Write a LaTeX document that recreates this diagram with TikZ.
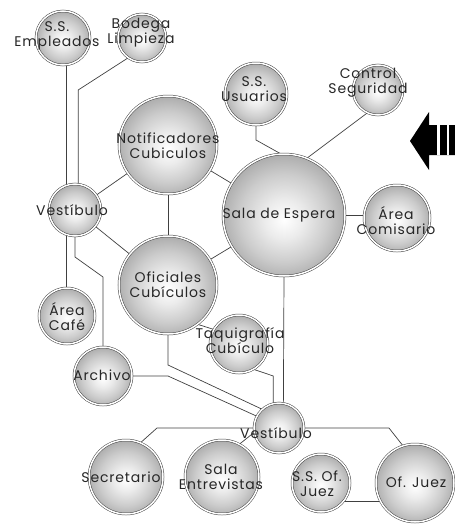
\documentclass[tikz,border=0pt]{standalone}
\usepackage{fontspec}
\setmainfont{Poppins}[LetterSpace=6]
\usetikzlibrary{backgrounds}

\pgfdeclareradialshading{roomball}{\pgfpoint{0bp}{-2bp}}{color(0bp)=(white); color(8bp)=(gray!15); color(18bp)=(gray!40); color(26bp)=(gray!65); color(33bp)=(gray!88); color(50bp)=(gray!95)}

\begin{document}
\begin{tikzpicture}[x=1pt, y=-1pt,
    room/.style={circle, draw=black!75, line width=0.5pt, double=white, double distance=1.5pt,
        shade, shading=roomball, inner sep=0pt, minimum size=#1},
    txt/.style={font=\fontsize{14}{15}\selectfont, text=black!85, align=center, inner sep=0pt},
    wire/.style={draw=black!75, line width=0.7pt}
]
\useasboundingbox (0,0) rectangle (455,525);

% top row
\node[room=54pt, label={[txt, xshift=-6pt, yshift=2pt]center:S.S.\\Empleados}] (ssEmp) at (63,38) {};
\node[room=48pt, label={[txt, xshift=-1pt, yshift=5pt]center:Bodega\\Limpieza}] (bodega) at (142,38) {};
\node[room=62pt, label={[txt, xshift=-2pt, yshift=5pt]center:S.S.\\Usuarios}] (ssUsu) at (256,94) {};
\node[room=50pt, label={[txt, xshift=-10pt, yshift=7pt]center:Control\\Seguridad}] (control) at (378,90) {};

% middle
\node[room=98pt, label={[txt, yshift=-1pt]center:Notificadores\\Cubiculos}] (notif) at (168,145) {};
\node[room=122pt, label={[txt, xshift=-5pt]center:Sala de Espera}] (sala) at (284,215) {};
\node[room=66pt, label={[txt, xshift=-1pt, yshift=-3pt]center:Área\\Comisario}] (comis) at (397,218) {};
\node[room=52pt, label={[txt, xshift=-3pt]center:Vestíbulo}] (vestL) at (75,210) {};
\node[room=98pt, label={[txt]center:Oficiales\\Cubículos}] (ofic) at (168,285) {};
\node[room=56pt, label={[txt, yshift=-1pt]center:Área\\Café}] (cafe) at (67,316) {};
\node[room=58pt, label={[txt, xshift=-1pt, yshift=1pt]center:Archivo}] (archivo) at (103,376) {};
\node[room=58pt, label={[txt, xshift=1pt, yshift=3pt]center:Taquigrafía\\Cubículo}] (taqui) at (239,344) {};

% bottom row
\node[room=50pt, label={[txt, xshift=-3pt, yshift=-5pt]center:Vestíbulo}] (vestB) at (279,428) {};
\node[room=74pt, label={[txt, xshift=-5pt]center:Secretario}] (secret) at (126,477) {};
\node[room=74pt, label={[txt, xshift=-1pt]center:Sala\\Entrevistas}] (entrev) at (222,477) {};
\node[room=58pt, label={[txt, xshift=-4pt, yshift=-1pt]center:S.S. Of.\\Juez}] (ssJuez) at (321,483) {};
\node[room=78pt, label={[txt, xshift=1pt, yshift=1pt]center:Of. Juez}] (ofJuez) at (415,483) {};

% entrance arrow
\fill[black] (410,141) -- (429,112) -- (429,125) -- (455,125) -- (455,155) -- (429,155) -- (429,170) -- cycle;
\fill[white] (437,125) rectangle (440,155);
\fill[white] (446.5,125) rectangle (449,155);

\begin{scope}[on background layer]
\draw[wire] (vestL.110) -- (vestL.110 |- ssEmp.south);
\draw[wire] (bodega.235) -- (vestL.83 |- 0,90) -- (vestL.83);
\draw[wire] (vestL) -- (notif);
\draw[wire] (notif) -- (ofic);
\draw[wire] (notif) -- (sala);
\draw[wire] (ssUsu) -- (ssUsu |- 0,140) -- (sala.93);
\draw[wire] (control.245) -- (sala.68);
\draw[wire] (sala) -- (sala -| comis);
\draw[wire] (ofic) -- (sala);
\draw[wire] (sala.south) -- (vestB.80);
\draw[wire] (vestL.250) -- (vestL.250 |- cafe);
\draw[wire] (vestL) -- (ofic);
\draw[wire] (vestL) -- (vestL |- 0,257) -- (archivo |- 0,277) -- (archivo);
\draw[wire] (ofic) -- (ofic |- 0,365) -- (vestB.132);
\draw[wire] (archivo) -- (ofic |- archivo) -- (vestB.152);
\draw[wire] (ofic.307) -- (taqui.150);
\draw[wire] (taqui.300) -- (vestB.103 |- 0,376) -- (vestB.103);
\draw[wire] (vestB) -- ++(-122,0) -- (secret.67);
\draw[wire] (vestB.190) -- (entrev.62);
\draw[wire] (vestB) -- ++(110,0) -- (ofJuez.108);
\draw[wire] (ssJuez.320) -- (ssJuez.320 -| ofJuez);
\end{scope}
\end{tikzpicture}
\end{document}
